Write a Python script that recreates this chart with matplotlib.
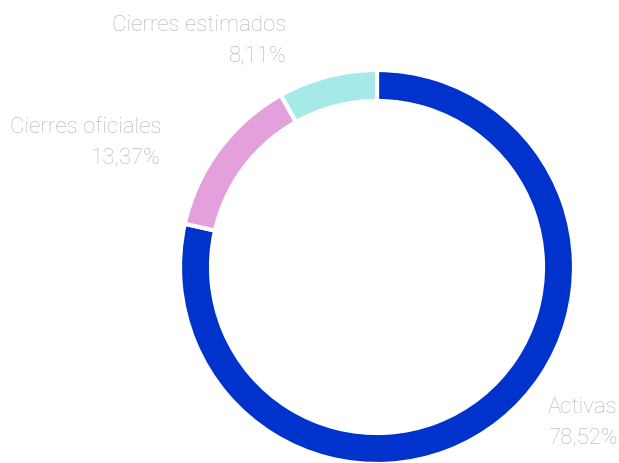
import matplotlib.pyplot as plt

labels = ['Activas', 'Cierres oficiales', 'Cierres estimados']
values = [78.52, 13.37, 8.11]
pct_text = ['78,52%', '13,37%', '8,11%']
colors = ['#0033cc', '#e3a0dc', '#a5eae8']

W, H = 619, 464
fig = plt.figure(figsize=(W / 100, H / 100), dpi=100)
ax = fig.add_axes([0, 0, 1, 1])
ax.set_xlim(0, W)
ax.set_ylim(0, H)
ax.set_aspect('equal')
ax.axis('off')

# donut drawn in pixel coordinates
cx, cy, r = 377, H - 268, 197
ax.pie(values, colors=colors, startangle=90, counterclock=False,
       center=(cx, cy), radius=r, frame=True,
       wedgeprops=dict(width=31, edgecolor='white', linewidth=3))
ax.set_xlim(0, W)
ax.set_ylim(0, H)
ax.axis('off')

txt = dict(color='#b3b3b3', fontsize=16, family='Roboto', fontweight='light')

# (x, baseline of name, baseline of percent, alignment) in image pixels
pos = {
    'Activas': (548, 413, 443, 'left'),
    'Cierres oficiales': (161, 133, 163, 'right'),
    'Cierres estimados': (286, 31, 61, 'right'),
}
for lab, p in zip(labels, pct_text):
    x, y1, y2, ha = pos[lab]
    ax.text(x, H - y1, lab, ha=ha, va='baseline', **txt)
    ax.text(x, H - y2, p, ha=ha, va='baseline', **txt)

fig.savefig('out.png', dpi=100)
